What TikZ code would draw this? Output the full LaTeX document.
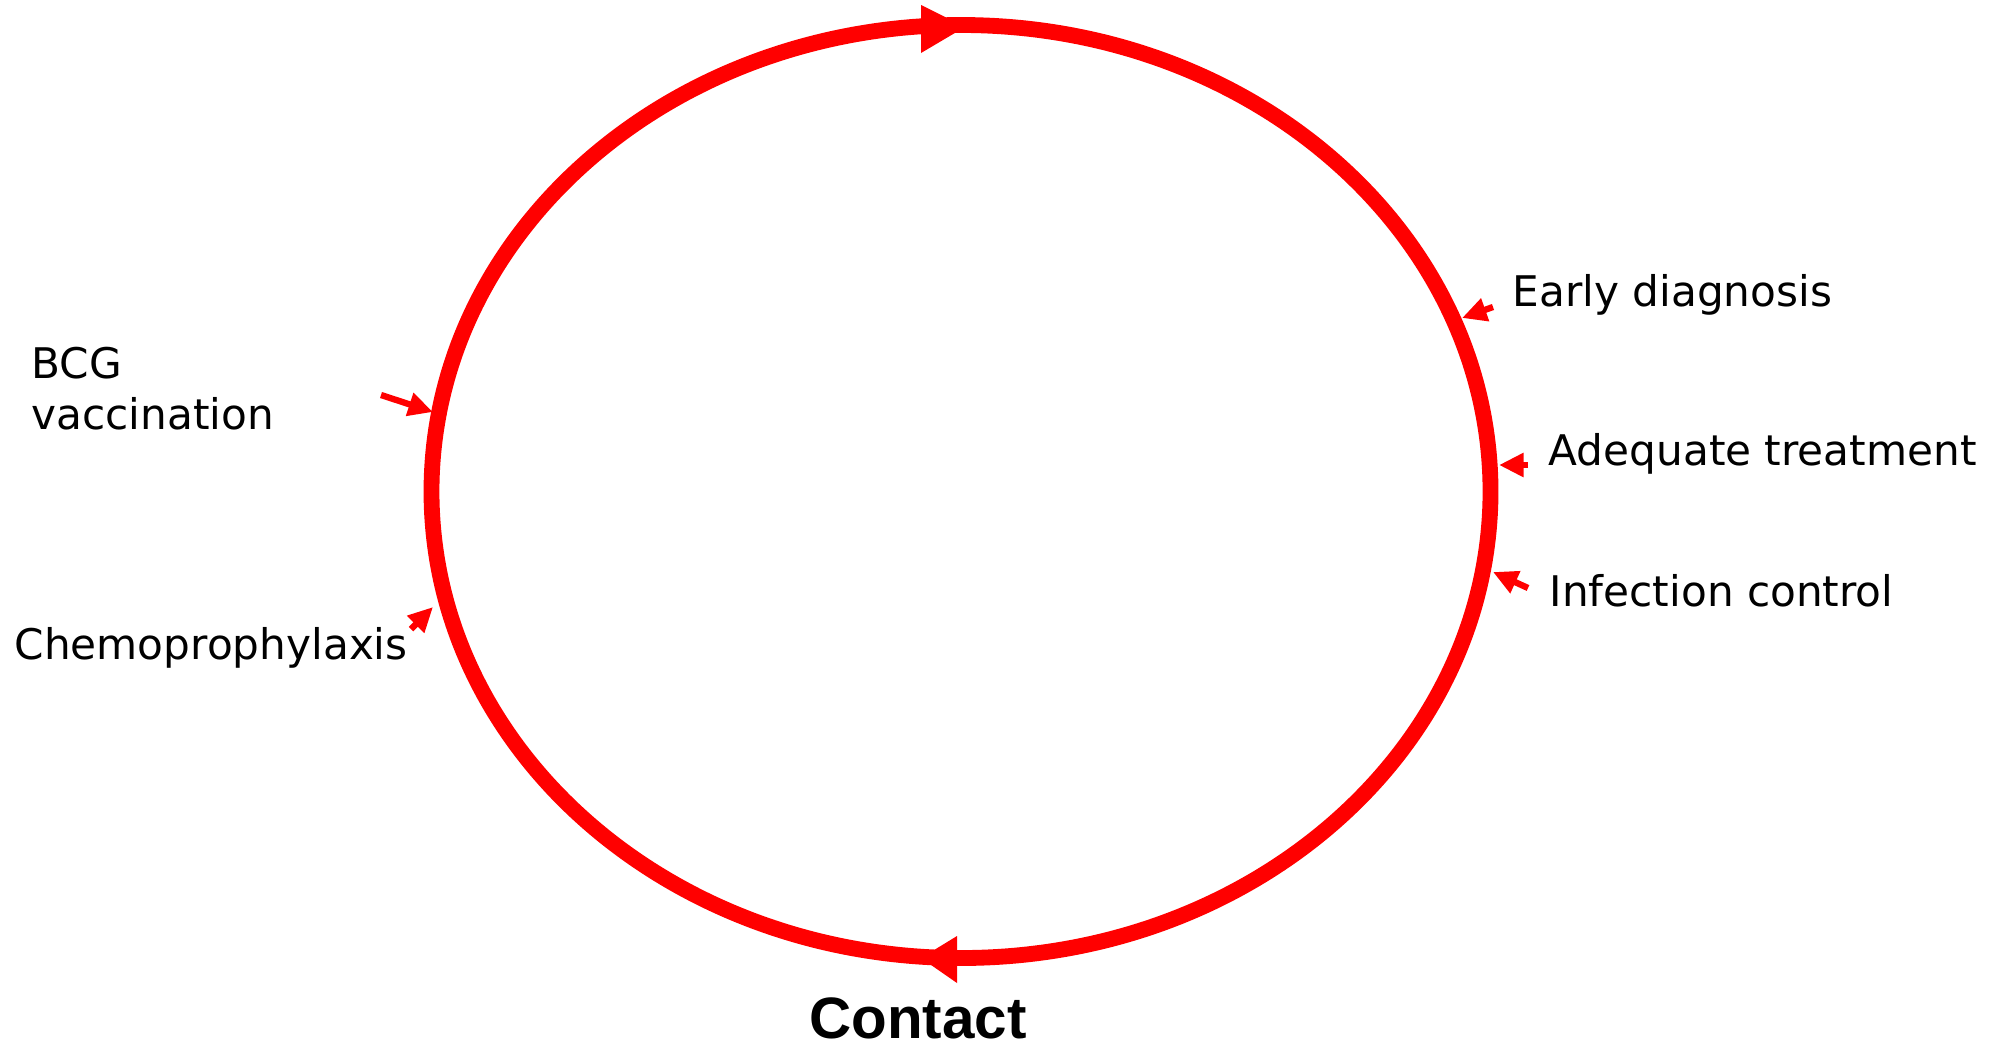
\documentclass[tikz,border=0pt]{standalone}
\usepackage{fontspec}
\setmainfont{DejaVu Sans}
\newfontfamily\headfont{Liberation Sans}
\usetikzlibrary{arrows.meta}
\begin{document}
\begin{tikzpicture}[x=0.01cm, y=-0.01cm, >={Triangle[length=7pt,width=6.5pt]},
    cyc/.style={draw=red, line width=4.5pt},
    lbl/.style={anchor=west, inner sep=0pt, font=\fontsize{12}{14.5}\selectfont},
    hint/.style={->, red, line width=1.8pt}]
\useasboundingbox (0,0) rectangle (2004,1048);
\coordinate (C) at (961,491.5);
\draw[cyc] (C) ellipse [x radius=529.5, y radius=466.5];
\fill[red] (921,5) -- (921,53) -- (965,27) -- cycle;
\fill[red] (957,936) -- (957,983) -- (921,958) -- cycle;
        \node(E)[lbl] at (1512,295){Early diagnosis};
        \node(T)[lbl] at (1548,454){Adequate treatment};
        \node(I)[lbl] at (1549,591){Infection control};
        \node(B)[lbl, align=left] at (31,389){BCG\\vaccination};
        \node(P)[lbl] at (14,648){Chemoprophylaxis};
        \node(K)[inner sep=0pt, font=\headfont\bfseries\fontsize{16.6}{20}\selectfont] at (918,1018){Contact};
\coordinate (E1) at (1493,307); \coordinate (E2) at (1462,318);
\coordinate (T1) at (1528,465); \coordinate (T2) at (1499,465);
\coordinate (I1) at (1528,588); \coordinate (I2) at (1493,572);
\coordinate (B1) at (381,395); \coordinate (B2) at (433,412);
\coordinate (P1) at (411,629); \coordinate (P2) at (433,607);
\draw[hint](E1)--(E2);
\draw[hint](T1)--(T2);
\draw[hint](I1)--(I2);
\draw[hint](B1)--(B2);
\draw[hint](P1)--(P2);
    \end{tikzpicture}
\end{document}
